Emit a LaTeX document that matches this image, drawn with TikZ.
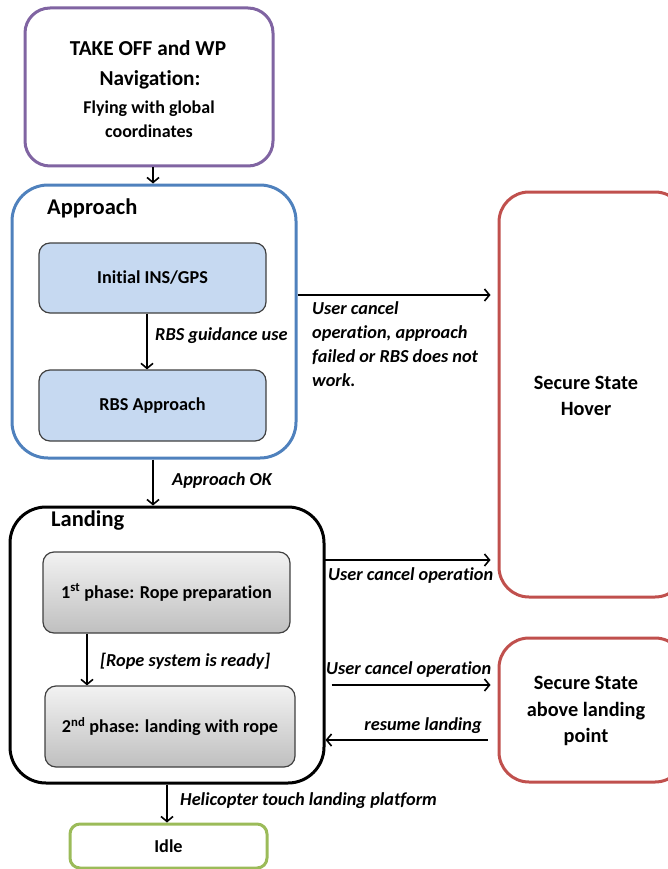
\documentclass[tikz,border=0pt]{standalone}
\usepackage{fontspec}
\setmainfont{Carlito}[Ligatures=NoCommon]
\usetikzlibrary{arrows.meta}

\definecolor{purpleline}{HTML}{8064A2}
\definecolor{blueline}{HTML}{4F81BD}
\definecolor{redline}{HTML}{C0504D}
\definecolor{greenline}{HTML}{9BBB59}
\definecolor{lightblue}{HTML}{C6D9F1}
\definecolor{boxedge}{HTML}{404040}

% font size and line distance in one go
\newcommand{\fs}[2]{\fontsize{#1}{#2}\selectfont}

\tikzset{
  outerbox/.style={draw, line width=3pt, rounded corners=#1, inner sep=0pt},
  innerbox/.style={draw=boxedge, line width=1.2pt, rounded corners=11pt, inner sep=0pt,
    font=\fs{18.2}{22}\bfseries, align=center},
  bluebox/.style={innerbox, fill=lightblue},
  graybox/.style={innerbox, top color=gray!10, bottom color=gray!50},
  arr/.style={line width=1.6pt, -{Straight Barb[length=5pt, width=12pt, line width=1.6pt]}},
  lbl/.style={font=\fs{18.3}{24}\bfseries\itshape, inner sep=0pt, align=left},
  title/.style={font=\fs{22.5}{26}\bfseries, inner sep=0pt},
  statetext/.style={font=\fs{20.3}{26.5}\bfseries, align=center, inner sep=0pt},
}

\begin{document}
\begin{tikzpicture}[x=1pt, y=-1pt]
\useasboundingbox (0,0) rectangle (668,869);

% take-off block
\node[outerbox=25pt, draw=purpleline, minimum width=248pt, minimum height=158pt] (takeoff) at (149,87) {};
\node[font=\fs{21.3}{24}\bfseries, inner sep=0pt] (tot1) at (148,48) {TAKE OFF and WP};
\node[font=\fs{21.3}{24}\bfseries, inner sep=0pt] (tot2) at (150,80) {Navigation:};
\node[font=\fs{18}{24}\bfseries, align=center, inner sep=0pt] (tot3) at (149,119)
  {Flying with global\\coordinates};

% approach composite state
\node[outerbox=36pt, draw=blueline, minimum width=284pt, minimum height=273pt] (appr) at (154,321.5) {};
\node[title, anchor=west] (apprt) at (47,208) {Approach};
\node[bluebox, minimum width=227pt, minimum height=70pt] (ins) at (152.5,278) {Initial INS/GPS};
\node[bluebox, minimum width=227pt, minimum height=71pt] (rbs) at (152.5,405.5) {RBS Approach};

% secure states
\node[outerbox=30pt, draw=redline, minimum width=186pt, minimum height=405pt] (hover) at (592,394.5) {};
\node[statetext] (hovert) at (586,396) {Secure State\\Hover};
\node[outerbox=30pt, draw=redline, minimum width=186pt, minimum height=144pt] (above) at (592,710) {};
\node[statetext] (abovet) at (586,711) {Secure State\\above landing\\point};

% landing composite state
\node[outerbox=36pt, draw=black, minimum width=314pt, minimum height=276pt] (land) at (167,645) {};
\node[title, anchor=west] (landt) at (51,521) {Landing};
\node[graybox, minimum width=247pt, minimum height=81pt] (ph1) at (166.5,592.5)
  {1\textsuperscript{st} phase: Rope preparation};
\node[graybox, minimum width=250pt, minimum height=81pt] (ph2) at (170,726.5)
  {2\textsuperscript{nd} phase: landing with rope};

% idle
\node[outerbox=10pt, draw=greenline, minimum width=197pt, minimum height=44pt,
      font=\fs{18.2}{22}\bfseries] (idle) at (168.5,846) {Idle};

% vertical transitions
\coordinate (a1) at ([xshift=4pt]takeoff.south);
\draw[arr] (a1) -- (a1 |- appr.north);
\coordinate (a2) at ([xshift=-5.5pt]ins.south);
\draw[arr] (a2) -- (a2 |- rbs.north);
\coordinate (a3) at ([xshift=-1pt]appr.south);
\draw[arr] (a3) -- (a3 |- land.north);
\coordinate (a4) at ([xshift=-79.5pt]ph1.south);
\draw[arr] (a4) -- (a4 |- ph2.north);
\coordinate (a5) at (land.south);
\draw[arr] (a5) -- (a5 |- idle.north);

% horizontal transitions
\coordinate (h1) at ([yshift=26.5pt]appr.east);
\draw[arr, shorten >=7pt] (h1) -- (h1 -| hover.west);
\coordinate (h2) at ([yshift=85pt, xshift=-2pt]land.east);
\draw[arr, shorten >=7pt] (h2) -- (h2 -| hover.west);
\coordinate (h3) at ([yshift=-40pt, xshift=6pt]land.east);
\draw[arr, shorten >=7pt] (h3) -- (h3 -| above.west);
\coordinate (h4) at ([yshift=-95pt]land.east);
\draw[arr, shorten <=10pt] (h4 -| above.west) -- (h4);

% transition labels
\node[lbl, anchor=west] (l1) at (155,336) {RBS guidance use};
\node[lbl, anchor=north west] (l2) at (312,301)
  {User cancel\\operation, approach\\failed or RBS does not\\work.};
\node[lbl, anchor=west] (l3) at (172,481) {Approach OK};
\node[lbl, anchor=west] (l4) at (100,661) {[Rope system is ready]};
\node[lbl, anchor=west] (l5) at (328,576) {User cancel operation};
\node[lbl, anchor=west] (l6) at (326,670) {User cancel operation};
\node[lbl, anchor=east] (l7) at (482,726) {resume landing};
\node[lbl, anchor=west] (l8) at (180,801) {Helicopter touch landing platform};
\end{tikzpicture}
\end{document}
